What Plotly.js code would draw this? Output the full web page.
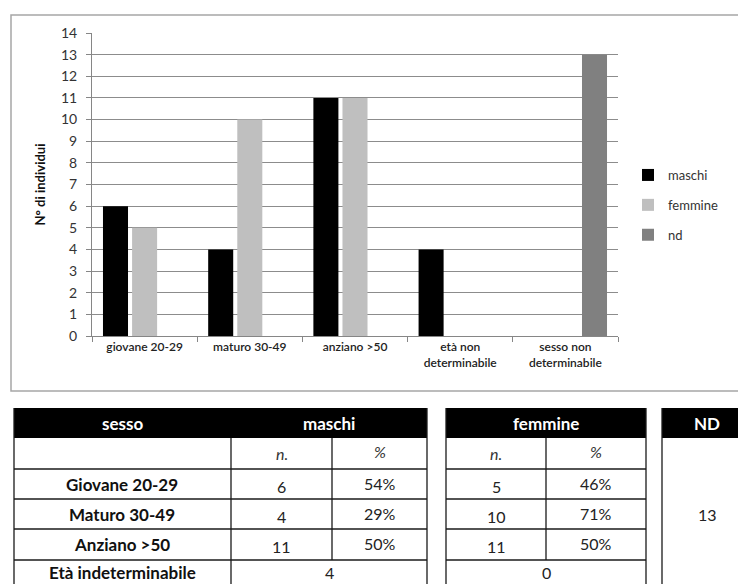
<!DOCTYPE html>
<html>
<head>
<meta charset="utf-8">
<script src="https://cdn.plot.ly/plotly-3.0.1.min.js"></script>
<style>
  html, body { margin: 0; padding: 0; background: #fff; }
  #chart { width: 738px; height: 584px; }
</style>
</head>
<body>
<div id="chart"></div>
<script>
// ---- Tabella: composizione per sesso ed età ----
const FASCE = ['Giovane 20-29', 'Maturo 30-49', 'Anziano >50'];
const MASCHI_N = [6, 4, 11];
const MASCHI_PCT = ['54%', '29%', '50%'];
const FEMMINE_N = [5, 10, 11];
const FEMMINE_PCT = ['46%', '71%', '50%'];
const ETA_INDET_LABEL = 'Età indeterminabile';
const ETA_INDET_MASCHI = 4;
const ETA_INDET_FEMMINE = 0;
const ND_TOTALE = 13;

// ---- Grafico a barre ----
const CATEGORIE = ['giovane 20-29', 'maturo 30-49', 'anziano >50',
                   'età non<br>determinabile', 'sesso non<br>determinabile'];
const MASCHI = [...MASCHI_N, ETA_INDET_MASCHI, null];
const FEMMINE = [...FEMMINE_N, ETA_INDET_FEMMINE, null];
const ND = [null, null, null, null, ND_TOTALE];
const SERIE = ['maschi', 'femmine', 'nd'];

// page size and pixel -> paper helpers
const W = 738, H = 584;
const px = v => v / W;
const py = v => 1 - v / H;

const FONT = 'Lato, "Open Sans", "DejaVu Sans", sans-serif';

const traces = [
  { name: SERIE[0], y: MASCHI, color: '#000000' },
  { name: SERIE[1], y: FEMMINE, color: '#bfbfbf' },
  { name: SERIE[2], y: ND, color: '#808080' }
].map(s => ({
  type: 'bar',
  x: CATEGORIE,
  y: s.y,
  name: s.name,
  legendgroup: s.name,
  marker: { color: s.color },
  hoverinfo: 'x+y+name'
}));

// ---- table geometry (pixels) ----
const ROW_EDGES = [408, 438, 469, 499, 529, 560, 591];
const T1 = [14, 231, 332, 427];   // sesso | n. | %
const T2 = [446, 546, 646];       // n. | %
const T3 = [662, 752];            // ND

const shapes = [];
const annotations = [];
const LINE = { color: '#1a1a1a', width: 1.3 };

function rect(x0, y0, x1, y1, fill, line) {
  shapes.push({ type: 'rect', xref: 'paper', yref: 'paper',
    x0: px(x0), x1: px(x1), y0: py(y1), y1: py(y0),
    fillcolor: fill || 'rgba(0,0,0,0)', line: line || { width: 0 }, layer: 'above' });
}
function hline(x0, x1, y) {
  shapes.push({ type: 'line', xref: 'paper', yref: 'paper',
    x0: px(x0), x1: px(x1), y0: py(y), y1: py(y), line: LINE, layer: 'above' });
}
function vline(x, y0, y1) {
  shapes.push({ type: 'line', xref: 'paper', yref: 'paper',
    x0: px(x), x1: px(x), y0: py(y0), y1: py(y1), line: LINE, layer: 'above' });
}
function text(x, y, t, opts) {
  opts = opts || {};
  annotations.push({
    xref: 'paper', yref: 'paper', x: px(x), y: py(y),
    xanchor: 'center', yanchor: 'middle', showarrow: false,
    text: t,
    font: { family: FONT, size: opts.size || 16, color: opts.color || '#1a1a1a',
            weight: opts.weight || 400, style: opts.style || 'normal' }
  });
}
const mid = (a, b) => (a + b) / 2;
const rowMid = i => mid(ROW_EDGES[i], ROW_EDGES[i + 1]);
const bottom = ROW_EDGES[ROW_EDGES.length - 1];

// frame around the chart
shapes.push({ type: 'rect', xref: 'paper', yref: 'paper',
  x0: px(11), x1: px(760), y0: py(391), y1: py(15),
  line: { color: '#a6a6a6', width: 1.5 }, fillcolor: 'rgba(0,0,0,0)', layer: 'below' });

// black header bands
rect(T1[0], ROW_EDGES[0], T1[3], ROW_EDGES[1], '#000');
rect(T2[0], ROW_EDGES[0], T2[2], ROW_EDGES[1], '#000');
rect(T3[0], ROW_EDGES[0], T3[1], ROW_EDGES[1], '#000');

// table 1 grid (sesso + maschi)
vline(T1[0], ROW_EDGES[0], bottom);
vline(T1[3], ROW_EDGES[0], bottom);
vline(T1[1], ROW_EDGES[1], bottom);
vline(T1[2], ROW_EDGES[1], ROW_EDGES[5]);
for (let i = 2; i < ROW_EDGES.length - 1; i++) hline(T1[0], T1[3], ROW_EDGES[i]);

// table 2 grid (femmine)
vline(T2[0], ROW_EDGES[0], bottom);
vline(T2[2], ROW_EDGES[0], bottom);
vline(T2[1], ROW_EDGES[1], ROW_EDGES[5]);
for (let i = 2; i < ROW_EDGES.length - 1; i++) hline(T2[0], T2[2], ROW_EDGES[i]);

// table 3 (ND)
vline(T3[0], ROW_EDGES[0], bottom);

// header texts
const HDR = { color: '#ffffff', weight: 700, size: 17 };
text(mid(T1[0], T1[1]), rowMid(0), 'sesso', HDR);
text(mid(T1[1], T1[3]), rowMid(0), SERIE[0], HDR);
text(mid(T2[0], T2[2]), rowMid(0), SERIE[1], HDR);
text(707, rowMid(0), SERIE[2].toUpperCase(), HDR);

// sub header
const SUB = { style: 'italic', size: 16, color: '#333' };
text(mid(T1[1], T1[2]), rowMid(1), 'n.', SUB);
text(mid(T1[2], T1[3]), rowMid(1) - 2, '%', SUB);
text(mid(T2[0], T2[1]), rowMid(1), 'n.', SUB);
text(mid(T2[1], T2[2]), rowMid(1) - 2, '%', SUB);

// body rows
FASCE.forEach((f, i) => {
  const y = rowMid(i + 2);
  text(mid(T1[0], T1[1]), y, f, { weight: 700, size: 17, color: '#111' });
  text(mid(T1[1], T1[2]), y + 2, String(MASCHI_N[i]), { size: 16, color: '#222' });
  text(mid(T1[2], T1[3]), y - 1, MASCHI_PCT[i], { size: 16, color: '#222' });
  text(mid(T2[0], T2[1]), y + 2, String(FEMMINE_N[i]), { size: 16, color: '#222' });
  text(mid(T2[1], T2[2]), y - 1, FEMMINE_PCT[i], { size: 16, color: '#222' });
});
const yEta = rowMid(5) - 3;
text(mid(T1[0], T1[1]), yEta, ETA_INDET_LABEL, { weight: 700, size: 17, color: '#111' });
text(mid(T1[1], T1[3]), yEta, String(ETA_INDET_MASCHI), { size: 16, color: '#222' });
text(mid(T2[0], T2[2]), yEta, String(ETA_INDET_FEMMINE), { size: 16, color: '#222' });
text(707, mid(ROW_EDGES[1], bottom), String(ND_TOTALE), { size: 16, color: '#222' });

const layout = {
  width: W, height: H,
  margin: { l: 0, r: 0, t: 0, b: 0 },
  paper_bgcolor: '#ffffff',
  plot_bgcolor: '#ffffff',
  barmode: 'group',
  bargap: 0.17,
  bargroupgap: 0.14,
  font: { family: FONT, color: '#333' },
  xaxis: {
    domain: [px(92), px(618)],
    type: 'category',
    showline: true, linecolor: '#868686', linewidth: 1,
    ticks: 'outside', ticklen: 5, tickcolor: '#868686',
    tickson: 'boundaries',
    tickangle: 0,
    tickfont: { family: FONT, size: 12, color: '#222', weight: 600 },
    showgrid: false, fixedrange: true
  },
  yaxis: {
    domain: [py(336), py(33)],
    range: [0, 14], dtick: 1,
    showline: true, linecolor: '#868686', linewidth: 1,
    ticks: 'outside', ticklen: 5, tickcolor: '#868686',
    ticklabelstandoff: 6,
    gridcolor: '#8c8c8c', gridwidth: 1,
    zeroline: false,
    tickfont: { family: FONT, size: 14, color: '#333' },
    title: { text: 'N° di individui', standoff: 12,
             font: { family: FONT, size: 13, color: '#111', weight: 700 } },
    fixedrange: true
  },
  showlegend: true,
  legend: {
    x: px(628), y: py(160), xanchor: 'left', yanchor: 'top',
    traceorder: 'grouped', tracegroupgap: 10,
    font: { family: FONT, size: 13, color: '#333' },
    bgcolor: 'rgba(0,0,0,0)'
  },
  shapes: shapes,
  annotations: annotations
};

Plotly.newPlot('chart', traces, layout, { displayModeBar: false, staticPlot: true });
</script>
</body>
</html>
